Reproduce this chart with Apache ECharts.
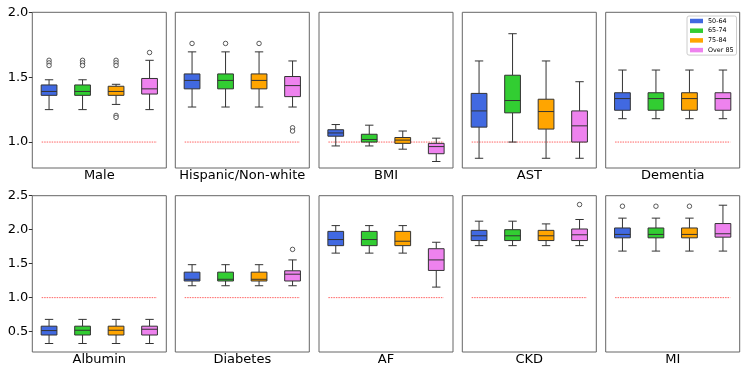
<!DOCTYPE html>
<html>
<head>
<meta charset="utf-8">
<script src="https://cdn.jsdelivr.net/npm/echarts@6/dist/echarts.min.js"></script>
<style>
  html, body { margin: 0; padding: 0; background: #fff; }
  #chart { width: 747px; height: 374px; }
</style>
</head>
<body>
<div id="chart"></div>
<script>
const groups = ['50-64', '65-74', '75-84', 'Over 85']
const groupColors = ['#4169e1', '#32cd32', '#ffa500', '#ee82ee']
const panels = ['Male', 'Hispanic/Non-white', 'BMI', 'AST', 'Dementia', 'Albumin', 'Diabetes', 'AF', 'CKD', 'MI']
const topTicks = [1.0, 1.5, 2.0]
const bottomTicks = [0.5, 1.0, 1.5, 2.0, 2.5]
const refValue = 1.0
const refSpan = [0.78, 4.22]

// [low whisker, Q1, median, Q3, high whisker] per age group
const male = [[1.25, 1.36, 1.39, 1.44, 1.48], [1.25, 1.36, 1.39, 1.44, 1.48], [1.29, 1.36, 1.39, 1.43, 1.445], [1.25, 1.37, 1.41, 1.49, 1.63]]
const hispanic = [[1.27, 1.41, 1.475, 1.525, 1.695], [1.27, 1.41, 1.475, 1.525, 1.695], [1.27, 1.41, 1.475, 1.525, 1.695], [1.27, 1.35, 1.435, 1.505, 1.625]]
const bmi = [[0.97, 1.045, 1.07, 1.095, 1.135], [0.97, 1.0, 1.02, 1.06, 1.13], [0.945, 0.99, 1.015, 1.035, 1.085], [0.85, 0.91, 0.965, 0.99, 1.03]]
const ast = [[0.875, 1.115, 1.24, 1.375, 1.625], [1.0, 1.225, 1.32, 1.515, 1.835], [0.875, 1.1, 1.235, 1.33, 1.625], [0.875, 1.0, 1.125, 1.24, 1.465]]
const dementia = [[1.18, 1.245, 1.335, 1.38, 1.555], [1.18, 1.245, 1.335, 1.38, 1.555], [1.18, 1.245, 1.335, 1.38, 1.555], [1.18, 1.245, 1.335, 1.38, 1.555]]
const albumin = [[0.325, 0.45, 0.515, 0.58, 0.68], [0.325, 0.45, 0.52, 0.58, 0.68], [0.325, 0.45, 0.52, 0.58, 0.68], [0.325, 0.45, 0.535, 0.58, 0.68]]
const diabetes = [[1.175, 1.245, 1.27, 1.375, 1.485], [1.175, 1.245, 1.27, 1.375, 1.485], [1.175, 1.245, 1.27, 1.375, 1.485], [1.175, 1.245, 1.345, 1.395, 1.555]]
const af = [[1.655, 1.765, 1.855, 1.975, 2.06], [1.655, 1.765, 1.855, 1.975, 2.06], [1.655, 1.765, 1.83, 1.975, 2.06], [1.155, 1.4, 1.555, 1.72, 1.815]]
const ckd = [[1.765, 1.84, 1.91, 1.99, 2.125], [1.765, 1.84, 1.91, 2.0, 2.125], [1.765, 1.84, 1.91, 1.99, 2.085], [1.765, 1.84, 1.925, 2.01, 2.15]]
const mi = [[1.685, 1.88, 1.93, 2.025, 2.17], [1.685, 1.88, 1.93, 2.025, 2.17], [1.685, 1.88, 1.93, 2.025, 2.17], [1.685, 1.89, 1.94, 2.09, 2.36]]

// outliers: [group position (1-4), value]
const maleOut = [[1, 1.63], [1, 1.61], [1, 1.59], [2, 1.63], [2, 1.61], [2, 1.59], [3, 1.63], [3, 1.61], [3, 1.59], [3, 1.205], [3, 1.19], [4, 1.69]]
const hispanicOut = [[1, 1.76], [2, 1.76], [3, 1.76], [4, 1.11], [4, 1.085]]
const bmiOut = []
const astOut = []
const dementiaOut = []
const albuminOut = []
const diabetesOut = [[4, 1.71]]
const afOut = []
const ckdOut = [[4, 2.37]]
const miOut = [[1, 2.345], [2, 2.345], [3, 2.345]]

const boxData = [male, hispanic, bmi, ast, dementia, albumin, diabetes, af, ckd, mi]
const outData = [maleOut, hispanicOut, bmiOut, astOut, dementiaOut, albuminOut, diabetesOut, afOut, ckdOut, miOut]

const gridLefts = [32.3, 175.3, 319, 462.3, 605.7]
const stroke = '#333'
const font = 'DejaVu Sans'

function renderBox(params, api) {
  const x = api.value(0)
  const pt = (dx, i) => api.coord([x + dx, api.value(i)])
  const seg = (a, b) => ({
    type: 'line',
    shape: { x1: a[0], y1: a[1], x2: b[0], y2: b[1] },
    style: { stroke: stroke, lineWidth: 1 }
  })
  const hw = 0.235
  const cw = 0.125
  const tl = pt(-hw, 4)
  const br = pt(hw, 2)
  return {
    type: 'group',
    children: [
      seg(pt(0, 1), pt(0, 2)),
      seg(pt(0, 4), pt(0, 5)),
      seg(pt(-cw, 1), pt(cw, 1)),
      seg(pt(-cw, 5), pt(cw, 5)),
      {
        type: 'rect',
        shape: { x: tl[0], y: tl[1], width: br[0] - tl[0], height: br[1] - tl[1] },
        style: { fill: api.visual('color'), stroke: stroke, lineWidth: 1 }
      },
      seg(pt(-hw, 3), pt(hw, 3))
    ]
  }
}

const grid = []
const xAxis = []
const yAxis = []
const series = []

panels.forEach((name, p) => {
  const row = p < 5 ? 0 : 1
  const col = p % 5
  const first = col === 0
  grid.push({
    left: gridLefts[col],
    top: row === 0 ? 12.3 : 195.7,
    width: 134,
    height: row === 0 ? 155.7 : 156.3,
    show: true,
    borderColor: '#666',
    borderWidth: 1,
    backgroundColor: '#fff'
  })
  xAxis.push({
    gridIndex: p,
    type: 'value',
    min: 0.5,
    max: 4.5,
    name: name,
    nameLocation: 'middle',
    nameGap: 1,
    nameTextStyle: { fontFamily: font, fontSize: 13, color: '#000' },
    axisLine: { show: false },
    axisTick: { show: false },
    axisLabel: { show: false },
    splitLine: { show: false }
  })
  const ticks = row === 0 ? topTicks : bottomTicks
  yAxis.push({
    gridIndex: p,
    type: 'value',
    min: row === 0 ? 0.8 : 0.2,
    max: row === 0 ? 2.0 : 2.5,
    axisLine: { show: false },
    axisTick: { show: first, length: 3.5, customValues: ticks, lineStyle: { color: '#333' } },
    axisLabel: {
      show: first,
      customValues: ticks,
      margin: 4,
      fontFamily: font,
      fontSize: 13,
      color: '#000',
      formatter: v => v.toFixed(1)
    },
    splitLine: { show: false }
  })
  series.push({
    type: 'line',
    xAxisIndex: p,
    yAxisIndex: p,
    data: [[refSpan[0], refValue], [refSpan[1], refValue]],
    symbol: 'none',
    silent: true,
    lineStyle: { color: '#ff3b3b', width: 0.8, type: [1.5, 1] },
    z: 1
  })
  groups.forEach((g, i) => {
    const d = boxData[p][i]
    series.push({
      type: 'custom',
      name: g,
      xAxisIndex: p,
      yAxisIndex: p,
      itemStyle: { color: groupColors[i] },
      renderItem: renderBox,
      encode: { x: 0, y: [1, 2, 3, 4, 5] },
      data: [[i + 1, d[0], d[1], d[2], d[3], d[4]]],
      z: 2
    })
  })
  series.push({
    type: 'scatter',
    xAxisIndex: p,
    yAxisIndex: p,
    data: outData[p],
    symbol: 'circle',
    symbolSize: 4.5,
    itemStyle: { color: '#fff', borderColor: stroke, borderWidth: 1 },
    z: 3
  })
})

const chart = echarts.init(document.getElementById('chart'))
chart.setOption({
  animation: false,
  grid: grid,
  xAxis: xAxis,
  yAxis: yAxis,
  legend: {
    data: groups,
    orient: 'vertical',
    left: 687,
    top: 16,
    padding: [1, 3, 1, 3],
    itemWidth: 13,
    itemHeight: 4.5,
    itemGap: 1.7,
    icon: 'rect',
    selectedMode: false,
    borderColor: '#ccc',
    borderWidth: 1,
    borderRadius: 2,
    backgroundColor: 'rgba(255,255,255,0.8)',
    textStyle: { fontFamily: font, fontSize: 6.4, lineHeight: 8, color: '#000' }
  },
  series: series
})
</script>
</body>
</html>
